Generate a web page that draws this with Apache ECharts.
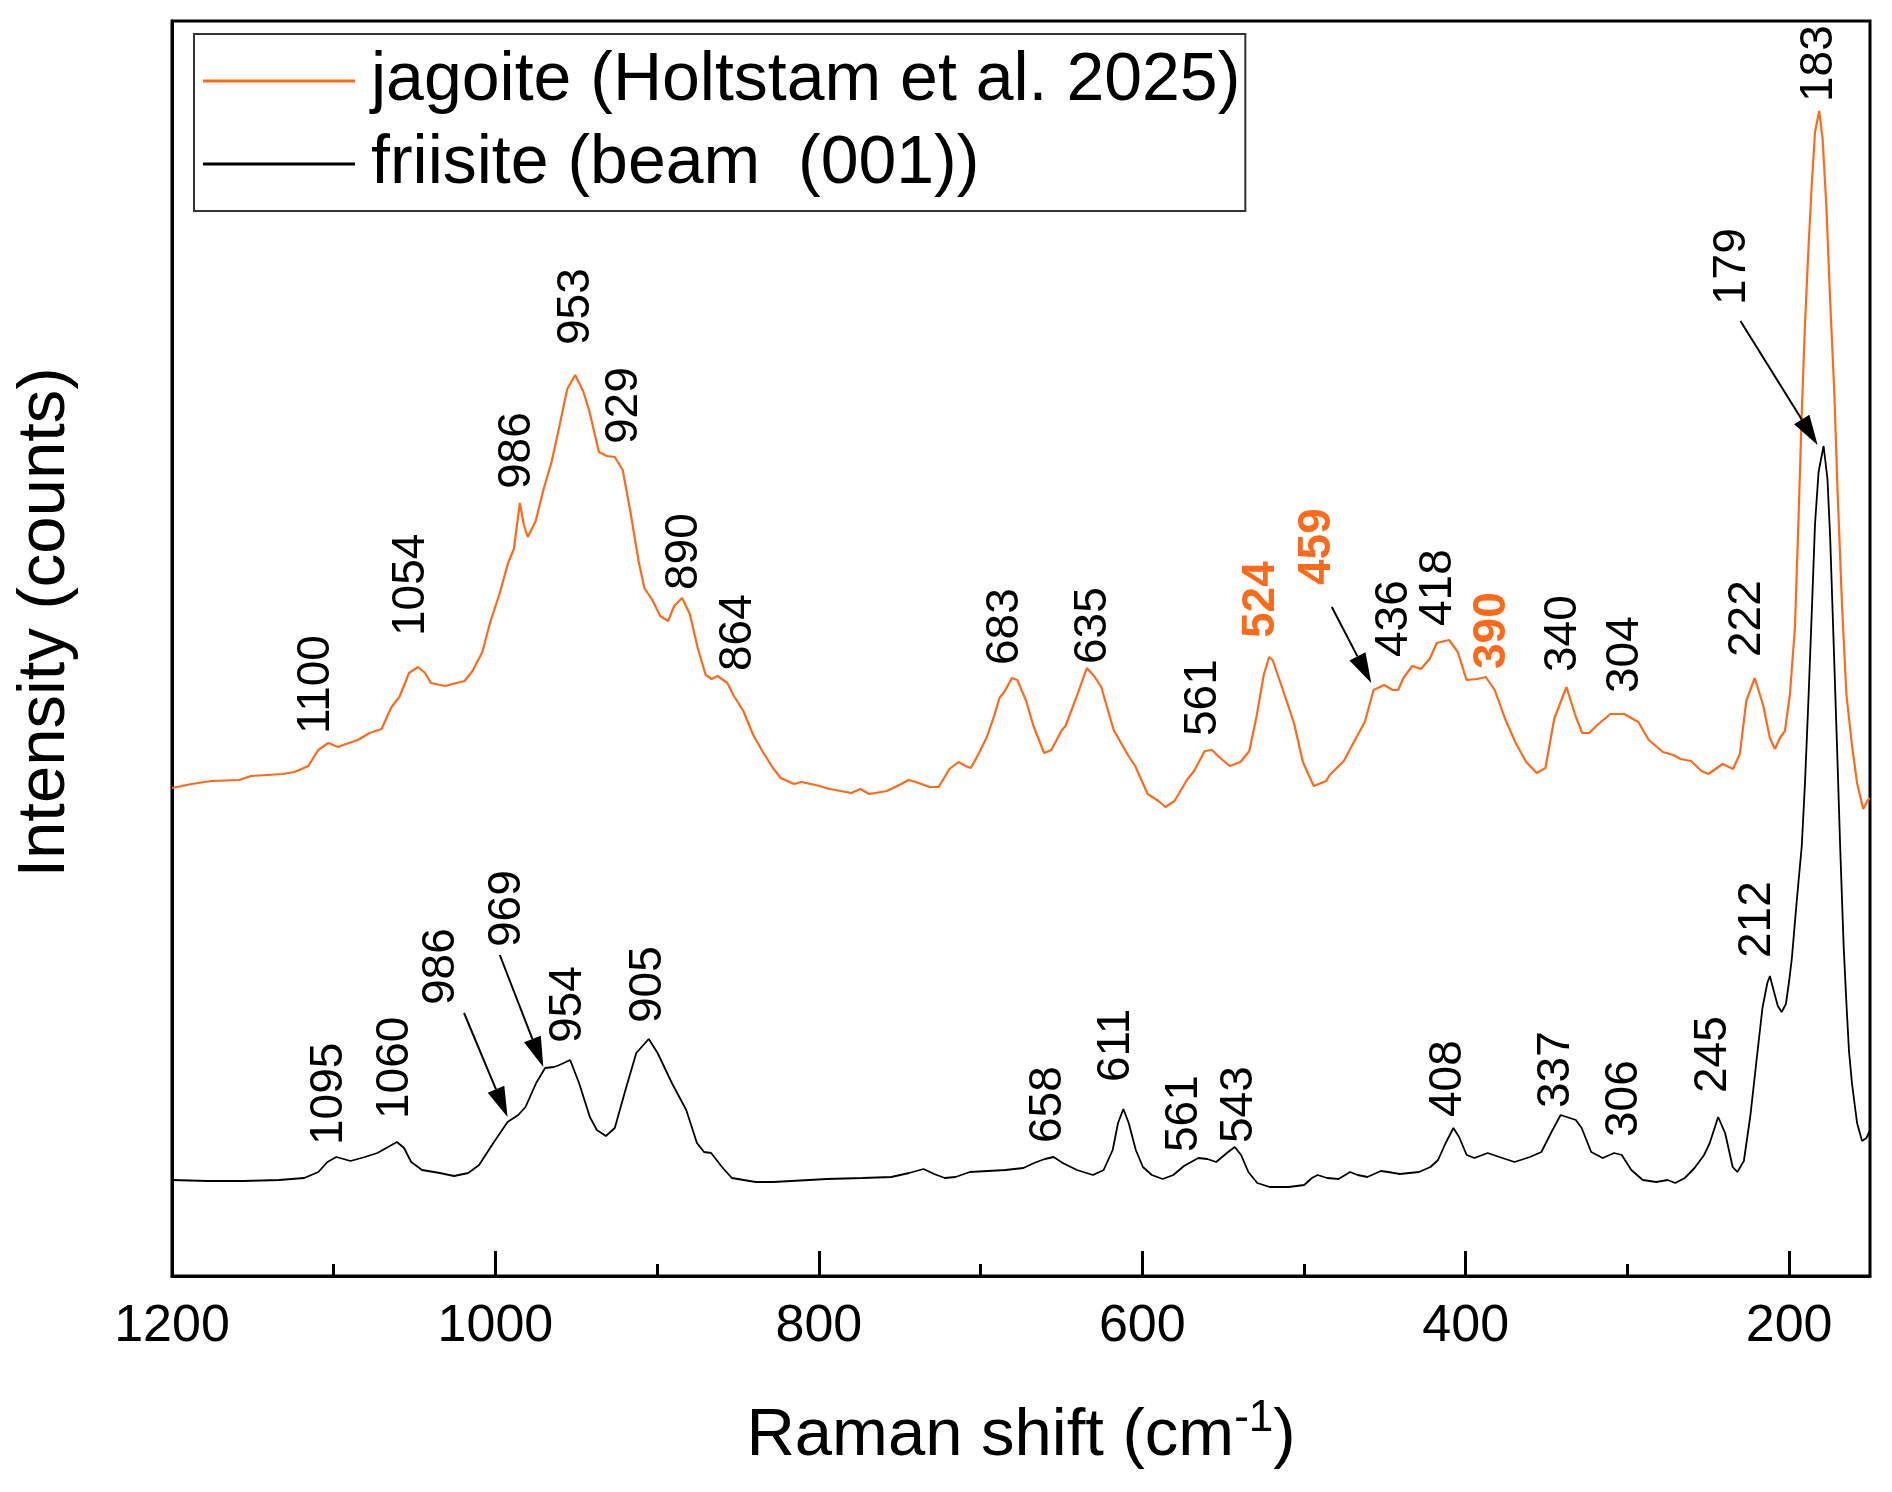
<!DOCTYPE html>
<html>
<head>
<meta charset="UTF-8">
<title>Raman spectra jagoite / friisite</title>
<script src="https://cdn.jsdelivr.net/npm/echarts@6/dist/echarts.min.js"></script>
<style>
html, body { margin: 0; padding: 0; background: #fff; }
#main { width: 1892px; height: 1492px; }
</style>
</head>
<body>
<div id="main"></div>
<script>
// spectra (arbitrary counts, offset as in the plot)
var jagoiteShift = [1200,1187.8,1175.6,1158.5,1151.1,1131.6,1124.2,1115.7,1109.6,1103.4,
	1097.3,1092.4,1085.1,1077.8,1070.4,1064.3,1059.4,1053.4,1047.9,1043.5,
	1039.9,1031.3,1019.1,1014.2,1008.1,1003.2,997.1,992.2,988.6,984.9,
	982.4,980.0,975.1,970.2,965.3,960.4,955.6,950.7,945.8,942.1,
	936.0,931.1,926.2,921.3,916.4,911.5,907.9,903.0,898.1,893.2,
	889.5,884.6,879.8,874.9,870.0,866.3,862.6,856.6,852.9,846.7,
	840.6,834.6,828.4,823.6,
	815.3,810.9,802.0,793.2,779.9,774.4,768.9,757.9,749.1,744.6,
	740.2,731.4,725.9,719.3,713.7,709.3,706.0,701.6,696.1,691.6,
	688.3,685.0,680.6,677.3,671.8,667.3,660.7,656.3,649.7,647.5,
	640.9,634.3,629.8,625.4,617.7,608.9,604.4,596.7,590.0,585.7,
	580.1,572.4,568.0,561.4,556.9,552.5,545.9,539.3,533.8,529.3,
	524.9,521.6,519.4,512.8,506.2,500.7,494.0,486.3,
	484.1,475.4,467.8,462.4,457.0,450.5,445.1,441.8,438.5,433.1,
	427.7,422.3,417.9,410.3,404.9,399.5,393.0,387.6,382.1,375.6,
	369.1,362.6,356.1,350.7,345.3,337.7,332.3,328.0,323.6,319.3,
	310.6,302.0,293.3,286.8,278.1,271.6,267.2,260.7,254.2,249.9,
	241.2,234.7,230.5,226.5,221.3,216.1,211.9,208.8,205.7,202.6,
	199.5,196.4,194.3,192.2,190.2,188.1,186.0,184.0,181.4,179.3,
	177.0,174.6,172.1,170.0,167.3,164.6,161.1,158.0,154.2,151.7,150.2];
var jagoiteCounts = [488,492,495,496,500,502,504,510,526,533,
	529,532,536,543,547,569,579,603,609,603,
	593,590,595,605,624,654,684,713,727,773,
	751,739,755,787,814,850,887,901,885,866,
	824,820,819,806,763,715,688,676,660,655,
	670,678,662,628,601,597,600,593,581,565,
	541,524,508,498,
	492,494,491,487,483,487,482,485,492,496,
	494,489,489,507,514,510,508,521,539,560,
	578,585,598,596,575,550,523,526,546,550,
	578,608,600,589,546,521,510,482,475,469,
	475,496,505,525,526,519,510,514,525,560,
	601,619,616,585,553,514,490,495,
	501,515,538,554,586,591,586,586,598,610,
	607,617,633,636,624,596,597,599,586,557,
	533,514,503,508,557,589,561,543,543,550,
	562,562,554,536,524,521,517,515,505,502,
	512,507,522,575,598,571,538,527,538,545,
	582,649,752,863,952,1026,1092,1144,1165,1137,
	1070,974,885,782,671,582,530,493,467,475,478];

var friisiteShift = [1200,1177.9,1155.9,1133.8,1118.3,1109.5,1103.9,1098.4,1089.6,1080.7,
	1073.0,1067.5,1060.9,1056.5,1052.1,1045.4,1034.4,1025.6,1016.8,1010.1,
	1001.3,992.5,985.9,981.4,974.8,969.3,963.8,960.4,953.8,948.3,
	941.6,937.3,931.7,926.2,919.6,912.9,905.2,899.7,890.9,882.0,
	875.4,871.0,866.6,859.9,853.8,
	839.1,828.1,817.1,795.0,772.9,755.2,744.2,735.3,728.7,722.1,
	715.5,706.6,695.6,684.6,673.5,666.9,660.3,654.8,649.2,640.4,
	630.5,623.9,618.3,615.0,611.7,608.4,604.0,599.6,594.1,587.4,
	580.8,574.2,565.4,559.8,554.3,547.7,542.8,538.9,534.4,528.9,521.2,
	509.4,499.9,495.1,491.6,485.7,478.6,471.5,466.8,460.8,452.5,
	447.9,440.7,428.9,421.8,417.1,412.4,407.6,404.1,399.4,394.6,
	386.4,379.2,369.8,360.3,353.2,347.3,341.3,331.9,328.3,322.4,
	315.3,308.2,303.5,297.6,290.5,282.2,275.1,270.4,264.5,258.5,
	252.6,249.1,243.9,239.6,234.9,232.0,
	228.0,224.0,220.0,216.5,213.5,211.9,209.5,207.0,204.6,202.0,
	200.0,198.3,195.3,192.2,190.2,188.1,186.0,184.0,181.8,178.7,
	176.3,174.6,172.5,170.4,168.4,166.3,164.5,163.0,161.1,158.0,
	154.9,152.2,150.2];
var friisiteCounts = [96,95,95,96,98,104,114,119,115,119,
	123,128,134,128,114,106,103,100,103,111,
	133,154,161,169,193,208,209,211,216,193,
	159,146,140,148,186,223,237,223,193,166,
	133,124,123,109,98,
	94,94,95,97,98,99,103,107,102,98,
	99,104,105,106,108,113,117,119,113,106,
	101,106,126,153,167,153,126,109,101,97,
	101,110,118,117,114,123,129,121,104,93,89,
	89,91,98,101,98,97,104,101,99,105,
	104,102,104,109,116,133,148,139,121,118,
	123,119,114,119,124,143,161,156,148,124,
	118,123,121,106,96,94,96,93,98,108,
	121,133,159,143,109,104,
	115,160,218,268,293,300,285,270,264,272,
	295,318,375,430,493,575,664,752,804,830,
	797,737,634,530,427,330,270,225,192,153,
	135,138,145];

var seriesNames = ['jagoite (Holtstam et al. 2025)', 'friisite (beam  (001))'];
var xTickValues = [1200, 1000, 800, 600, 400, 200];
var xMinorTickValues = [1100, 900, 700, 500, 300];

// peak labels: text, shift, counts at the start of the text, orange bold?
var peakLabels = [
	['1100',1111.0,542,0],['1054',1052.1,640,0],['986',986.6,787,0],['953',950.2,931,0],
	['929',920.1,832,0],['890',882.9,686,0],['864',849.8,605,0],['683',684.6,611,0],
	['635',630.2,612,0],['561',562.5,540,0],['524',526.1,638,1],['459',491.8,691,1],
	['436',443.9,619,0],['418',416.9,650,0],['390',383.3,607,1],['340',339.8,604,0],
	['304',301.5,583,0],['222',226.0,619,0],['183',181.6,1174,0],['179',235.3,971,0],
	['1095',1102.9,131,0],['1060',1062.0,157,0],['986',1033.3,271,0],['969',992.5,329,0],
	['954',954.9,233,0],['905',905.2,253,0],['658',658.1,133,0],['611',616.1,194,0],
	['561',574.2,124,0],['543',540.0,133,0],['408',410.5,159,0],['337',344.2,168,0],
	['306',301.7,139,0],['245',246.7,183,0],['212',219.5,318,0]
];
// arrows: from shift, from counts, to shift, to counts
var arrows = [
	[230.1,955,182.4,831],
	[482.8,669,458.4,593],
	[1019.4,263,992.5,159],
	[997.3,321,970.4,209]
];

var orange = '#FF6A1A';
var font = "'Liberation Sans', Arial, sans-serif";

function pairs(xs, ys) {
	var out = [];
	for (var i = 0; i < xs.length; i++) {
		out.push([xs[i], ys[i]]);
	}
	return out;
}

var chart = echarts.init(document.getElementById('main'));

chart.setOption({
	animation: false,
	backgroundColor: '#fff',
	textStyle: { fontFamily: font },
	grid: {
		left: 172, right: 22, top: 21, bottom: 216,
		show: true, borderColor: '#000', borderWidth: 3
	},
	legend: {
		orient: 'vertical',
		left: 194,
		top: 34,
		padding: [7, 5, 7, 9],
		itemGap: 3,
		itemWidth: 152,
		itemHeight: 3,
		icon: 'rect',
		borderColor: '#333',
		borderWidth: 2,
		data: seriesNames,
		textStyle: { fontSize: 68, lineHeight: 80, color: '#000', fontFamily: font, padding: [0, 0, 0, 11] }
	},
	xAxis: [{
		type: 'value',
		min: 150,
		max: 1200,
		inverse: true,
		name: '{n|Raman shift (cm}{s|-1}{n|)}',
		nameLocation: 'middle',
		nameGap: 121,
		nameTextStyle: {
			rich: {
				n: { fontSize: 67, lineHeight: 80, color: '#000', fontFamily: font },
				s: { fontSize: 44, lineHeight: 44, color: '#000', fontFamily: font, verticalAlign: 'top' }
			}
		},
		axisLine: { show: true, lineStyle: { color: '#000', width: 3 } },
		axisTick: { show: true, inside: true, length: 25, customValues: xTickValues, lineStyle: { color: '#000', width: 3 } },
		axisLabel: {
			show: true, customValues: xTickValues, margin: 25, fontSize: 52, lineHeight: 52,
			color: '#000', fontFamily: font,
			formatter: function (v) { return String(v); }
		},
		splitLine: { show: false }
	}, {
		type: 'value',
		min: 150,
		max: 1200,
		inverse: true,
		position: 'bottom',
		axisLine: { show: false },
		axisTick: { show: true, inside: true, length: 12, customValues: xMinorTickValues, lineStyle: { color: '#000', width: 3 } },
		axisLabel: { show: false },
		splitLine: { show: false }
	}],
	yAxis: {
		type: 'value',
		min: 0,
		max: 1255,
		name: 'Intensity (counts)',
		nameLocation: 'middle',
		nameGap: 93,
		nameTextStyle: { fontSize: 67, lineHeight: 67, color: '#000', fontFamily: font, padding: [0, 0, 0, 52] },
		axisLine: { show: true, lineStyle: { color: '#000', width: 3 } },
		axisTick: { show: false },
		axisLabel: { show: false },
		splitLine: { show: false }
	},
	series: [{
		name: seriesNames[0],
		type: 'line',
		xAxisIndex: 0,
		showSymbol: false,
		color: orange,
		lineStyle: { color: orange, width: 2.2 },
		data: pairs(jagoiteShift, jagoiteCounts)
	}, {
		name: seriesNames[1],
		type: 'line',
		xAxisIndex: 0,
		showSymbol: false,
		color: '#000',
		lineStyle: { color: '#000', width: 1.8 },
		data: pairs(friisiteShift, friisiteCounts)
	}]
});

// peak labels and arrows, placed in data coordinates
function toPx(v, c) {
	return chart.convertToPixel({ xAxisIndex: 0, yAxisIndex: 0 }, [v, c]);
}
var g = [];
peakLabels.forEach(function (l) {
	var p = toPx(l[1], l[2]);
	g.push({
		type: 'text', x: p[0], y: p[1], rotation: Math.PI / 2, z: 10,
		style: {
			text: l[0], fontSize: 46, fontFamily: font,
			fontWeight: l[3] ? 'bold' : 'normal',
			fill: l[3] ? orange : '#000',
			align: 'left', verticalAlign: 'middle'
		}
	});
});
arrows.forEach(function (a) {
	var p0 = toPx(a[0], a[1]), p1 = toPx(a[2], a[3]);
	var dx = p1[0] - p0[0], dy = p1[1] - p0[1];
	var len = Math.sqrt(dx * dx + dy * dy), ux = dx / len, uy = dy / len;
	var bx = p1[0] - ux * 30, by = p1[1] - uy * 30;
	g.push({ type: 'line', z: 10, shape: { x1: p0[0], y1: p0[1], x2: bx, y2: by }, style: { stroke: '#000', lineWidth: 2 } });
	g.push({ type: 'polygon', z: 10, shape: { points: [[p1[0], p1[1]], [bx - uy * 9, by + ux * 9], [bx + uy * 9, by - ux * 9]] }, style: { fill: '#000' } });
});
chart.setOption({ graphic: g });
</script>
</body>
</html>
